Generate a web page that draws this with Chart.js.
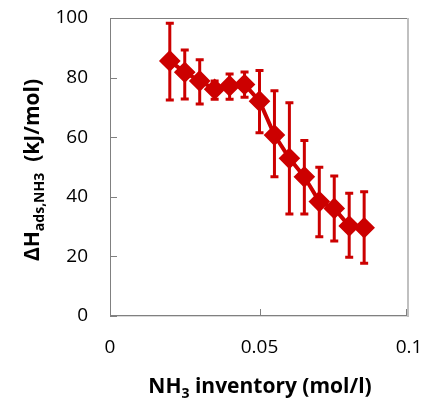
<!DOCTYPE html>
<html>
<head>
<meta charset="utf-8">
<script src="https://cdn.jsdelivr.net/npm/chart.js@4"></script>
<style>
  html, body { margin: 0; padding: 0; background: #fff; }
  #wrap { width: 425px; height: 398px; }
</style>
</head>
<body>
<div id="wrap"><canvas id="chart" width="425" height="398"></canvas></div>
<script>
// NH3 inventory (mol/l) and adsorption enthalpy (kJ/mol) with error bar limits
const xValues = [0.02, 0.025, 0.03, 0.035, 0.04, 0.045, 0.05, 0.055, 0.06, 0.065, 0.07, 0.075, 0.08, 0.085];
const yValues = [85.6, 81.8, 78.9, 76.1, 77.2, 77.7, 72.1, 60.7, 52.9, 46.7, 38.4, 36.1, 30.2, 29.6];
const yUpper  = [98.2, 89.3, 86.0, 78.9, 81.2, 81.9, 82.4, 75.6, 71.6, 58.9, 49.9, 47.0, 41.2, 41.7];
const yLower  = [72.5, 72.8, 71.1, 72.7, 72.7, 73.4, 61.5, 46.7, 34.2, 34.2, 26.6, 25.2, 19.7, 17.7];
const xTicks = [0, 0.05, 0.1];
const yTicks = [0, 20, 40, 60, 80, 100];

const red = '#CC0000';
const fontFamily = '"Open Sans", Lato, sans-serif';

const points = xValues.map((x, i) => ({ x: x, y: yValues[i] }));

// error bars, drawn under the markers
const errorBars = {
  id: 'errorBars',
  beforeDatasetsDraw(chart) {
    const ctx = chart.ctx;
    const xs = chart.scales.x, ys = chart.scales.y;
    ctx.save();
    ctx.strokeStyle = red;
    ctx.lineWidth = 3;
    xValues.forEach((x, i) => {
      const px = xs.getPixelForValue(x);
      const top = ys.getPixelForValue(yUpper[i]);
      const bot = ys.getPixelForValue(yLower[i]);
      ctx.beginPath();
      ctx.moveTo(px, top); ctx.lineTo(px, bot);
      ctx.moveTo(px - 4, top); ctx.lineTo(px + 4, top);
      ctx.moveTo(px - 4, bot); ctx.lineTo(px + 4, bot);
      ctx.stroke();
    });
    ctx.restore();
  }
};

// plot frame, inner tick marks and the axis titles with subscripts
const frame = {
  id: 'frame',
  afterDraw(chart) {
    const ctx = chart.ctx;
    const a = chart.chartArea;
    const xs = chart.scales.x, ys = chart.scales.y;
    const L = Math.round(a.left), R = Math.round(a.right);
    const T = Math.round(a.top), B = Math.round(a.bottom);
    ctx.save();
    // right edge, light and a bit heavier
    ctx.fillStyle = '#C0C0C0';
    ctx.fillRect(R - 2, T, 2, B - T + 1);
    // soft shadow under the bottom edge
    ctx.fillStyle = '#D9D9D9';
    ctx.fillRect(L, B, R - L - 2, 1);
    // top, left and bottom edges
    ctx.fillStyle = '#808080';
    ctx.fillRect(L, T, R - L - 2, 1);
    ctx.fillRect(L, T, 1, B - T);
    ctx.fillRect(L, B - 1, R - L - 2, 1);
    // inner tick marks
    yTicks.forEach(v => {
      const py = Math.round(ys.getPixelForValue(v));
      ctx.fillRect(L, py, 7, 1);
    });
    xTicks.forEach(v => {
      const px = Math.round(xs.getPixelForValue(v));
      ctx.fillRect(Math.min(px, R - 3), B - 7, 1, 7);
    });

    ctx.fillStyle = '#000';
    ctx.textBaseline = 'alphabetic';
    const big = 'bold 21px ' + fontFamily;
    const small = 'bold 14px ' + fontFamily;

    // x title
    const xParts = [['NH', big, 0], ['3', small, 5], [' inventory (mol/l)', big, 0]];
    drawParts(ctx, xParts, 260, 393);

    // y title
    ctx.translate(39, 170);
    ctx.rotate(-Math.PI / 2);
    const yParts = [['\u0394H', big, 0], ['ads,NH3', small, 5], ['  (kJ/mol)', big, 0]];
    drawParts(ctx, yParts, 0, 0);
    ctx.restore();
  }
};

function drawParts(ctx, parts, cx, baseY) {
  let total = 0;
  parts.forEach(p => { ctx.font = p[1]; total += ctx.measureText(p[0]).width; });
  let x = cx - total / 2;
  ctx.textAlign = 'left';
  parts.forEach(p => {
    ctx.font = p[1];
    ctx.fillText(p[0], x, baseY + p[2]);
    x += ctx.measureText(p[0]).width;
  });
}

// keep the plot area fixed: no extra room for overflowing tick labels
function noOverflow(s) {
  s.paddingTop = 0; s.paddingBottom = 0; s.paddingLeft = 0; s.paddingRight = 0;
}

new Chart(document.getElementById('chart'), {
  type: 'line',
  data: {
    datasets: [{
      data: points,
      borderColor: red,
      backgroundColor: red,
      borderWidth: 4,
      pointStyle: 'rectRot',
      pointRadius: 8,
      pointHoverRadius: 8,
      tension: 0
    }]
  },
  options: {
    responsive: false,
    animation: false,
    events: [],
    layout: { padding: { left: 0, right: 16, top: 18, bottom: 0 } },
    plugins: { legend: { display: false }, tooltip: { enabled: false } },
    scales: {
      x: {
        type: 'linear',
        min: 0, max: 0.1,
        afterBuildTicks: s => { s.ticks = xTicks.map(v => ({ value: v })); },
        afterFit: s => { s.height = 82; noOverflow(s); },
        grid: { display: false, drawTicks: false },
        border: { display: false },
        ticks: {
          color: '#000',
          padding: 20,
          maxRotation: 0,
          autoSkip: false,
          font: { family: fontFamily, size: 19 },
          callback: v => String(v)
        }
      },
      y: {
        min: 0, max: 100,
        afterBuildTicks: s => { s.ticks = yTicks.map(v => ({ value: v })); },
        afterFit: s => { s.width = 110; noOverflow(s); },
        grid: { display: false, drawTicks: false },
        border: { display: false },
        ticks: {
          color: '#000',
          padding: 22,
          font: { family: fontFamily, size: 19 }
        }
      }
    }
  },
  plugins: [errorBars, frame]
});
</script>
</body>
</html>
